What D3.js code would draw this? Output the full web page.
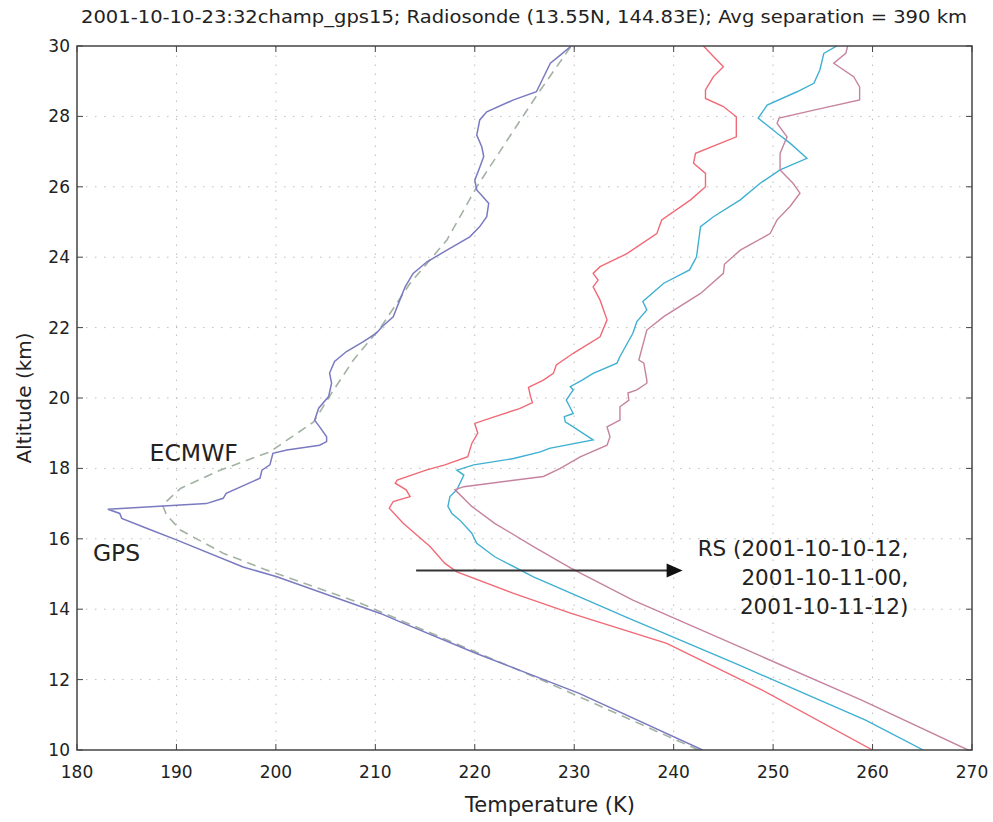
<!DOCTYPE html>
<html><head><meta charset="utf-8">
<script src="https://cdn.jsdelivr.net/npm/d3@7"></script>
<style>body{margin:0;background:#fff;} svg{display:block;} text{font-family:"DejaVu Sans",Verdana,sans-serif;fill:#222;}</style>
</head><body>
<svg id="chart" width="993" height="822"></svg>
<script>
const titleText = "2001-10-10-23:32champ_gps15; Radiosonde (13.55N, 144.83E); Avg separation = 390 km";
const xLabel = "Temperature (K)";
const yLabel = "Altitude (km)";
const xTicks = [180,190,200,210,220,230,240,250,260,270];
const yTicks = [10,12,14,16,18,20,22,24,26,28,30];

// GPS profile: altitude (km) and temperature (K)
const gpsAlt  = [10.0,11.61,12.75,13.64,13.88,14.92,15.2,15.97,16.3,16.58,16.72,16.84,16.93,17.0,17.15,17.29,17.72,17.95,18.1,18.43,18.52,18.66,18.76,18.9,19.18,19.37,19.71,20.04,20.42,20.71,21.04,21.32,21.6,21.84,22.03,22.31,22.88,23.16,23.54,23.87,24.2,24.58,24.87,25.15,25.53,25.91,26.19,26.48,26.86,27.14,27.47,27.9,28.13,28.47,28.7,29.51,29.74,30.0];
const gpsTemp = [242.9,230.5,220.1,212.5,210.5,200.1,196.7,190.0,187.0,184.5,184.3,183.1,188.7,193.0,194.7,195.0,198.4,198.6,199.4,199.7,201.1,204.4,205.1,205.1,204.4,203.9,204.3,205.3,205.6,205.4,205.9,207.1,208.8,210.1,210.7,211.8,212.6,213.0,213.8,215.2,217.2,219.5,220.5,221.2,221.4,220.2,220.0,220.4,220.9,220.7,220.2,220.5,221.2,223.9,226.2,227.6,228.6,229.7];

// ECMWF profile
const ecmAlt  = [10.0,12.08,13.69,14.17,14.64,15.11,15.59,16.25,16.68,16.96,17.43,17.95,18.47,19.32,20.14,21.08,22.03,23.26,24.49,26.0,27.9,28.75,30.0];
const ecmTemp = [242.5,226.0,212.5,208.5,203.8,199.1,194.7,190.4,189.0,188.6,190.4,194.4,199.4,203.8,205.6,207.8,210.6,213.5,217.2,220.2,224.6,226.6,229.7];

// Radiosonde 2001-10-10-12 (red)
const rs1Alt  = [10.0,11.7,13.03,13.88,14.45,15.06,15.3,15.78,16.44,16.87,17.06,17.2,17.39,17.58,17.67,17.95,18.1,18.33,18.71,19.0,19.28,19.45,19.7,19.87,20.05,20.3,20.51,20.7,20.94,21.27,21.74,22.22,22.78,23.16,23.35,23.54,23.73,24.1,24.67,25.06,25.63,26.0,26.38,26.67,26.95,27.42,27.99,28.28,28.51,28.75,29.13,29.41,29.7,30.0];
const rs1Temp = [260.0,248.9,239.3,229.7,223.9,218.2,217.0,215.5,212.8,211.4,211.8,213.5,213.1,212.0,212.2,215.1,217.0,219.3,219.7,220.3,220.0,221.8,224.5,225.8,225.6,225.4,226.9,227.9,228.2,229.9,232.6,233.3,232.6,231.9,232.4,231.9,232.6,235.3,238.3,238.8,241.7,243.2,243.2,242.0,242.2,246.3,246.3,245.0,243.2,243.2,244.0,245.0,244.0,243.0];

// Radiosonde 2001-10-11-00 (cyan)
const rs2Alt  = [10.0,10.85,12.41,13.79,14.92,15.49,15.87,16.16,16.53,16.72,16.92,17.2,17.39,17.81,17.95,18.1,18.28,18.47,18.57,18.81,19.18,19.32,19.47,19.56,19.94,20.23,20.32,20.51,20.7,20.99,21.18,21.84,22.17,22.5,22.74,23.26,23.64,24.01,24.87,25.15,25.63,26.1,26.48,26.81,27.24,27.52,27.95,28.32,28.7,28.94,29.32,29.79,30.0];
const rs2Temp = [265.1,259.3,246.6,235.1,225.9,222.0,220.2,219.7,218.5,217.7,217.3,217.5,218.2,218.9,218.2,219.9,223.9,226.6,227.5,231.9,229.9,229.1,229.0,229.9,229.2,229.9,229.6,230.8,231.9,234.3,234.6,235.9,236.3,237.3,236.9,239.0,241.6,242.3,242.7,244.0,246.7,248.7,250.7,253.4,251.7,250.4,248.5,249.4,252.4,254.1,254.7,255.1,256.4];

// Radiosonde 2001-10-11-12 (mauve)
const rs3Alt  = [10.0,11.42,12.65,14.26,15.16,15.78,16.44,16.92,17.34,17.39,17.48,17.77,18.0,18.33,18.66,18.9,19.18,19.37,19.75,19.94,20.14,20.23,20.42,20.51,20.99,21.08,21.93,22.31,22.97,23.54,23.8,24.2,24.67,25.06,25.44,25.82,26.1,26.48,26.95,27.42,27.8,27.95,28.18,28.47,28.84,29.13,29.51,29.79,30.0];
const rs3Temp = [269.6,258.9,248.9,235.9,229.7,225.9,222.0,219.7,218.2,218.0,218.9,226.9,228.6,230.6,233.3,233.6,233.3,234.6,234.6,235.5,235.4,236.3,237.3,237.3,237.0,236.5,237.3,239.0,242.7,245.0,245.1,246.7,249.7,250.4,251.7,252.7,252.0,250.7,250.7,251.4,250.4,250.6,254.1,258.7,258.7,258.1,256.1,257.3,257.5];

// annotations (data coordinates)
const arrowTemp = [214.1, 240.9];
const arrowAlt = 15.1;
const labelEcmwf = {text:"ECMWF", t:187.3, z:18.2};
const labelGps = {text:"GPS", t:181.6, z:15.36};
const rsLines = ["RS (2001-10-10-12,", "2001-10-11-00,", "2001-10-11-12)"];
const rsLabelPos = {t:263.6, z:15.5};

const W = 993, H = 822;
const m = {l:77, t:46, r:21, b:72};
const svg = d3.select("#chart");
const x = d3.scaleLinear().domain([180,270]).range([m.l, W-m.r]);
const y = d3.scaleLinear().domain([10,30]).range([H-m.b, m.t]);

// grid
const grid = svg.append("g");
grid.selectAll("line.gx").data(xTicks.slice(1,-1)).join("line")
  .attr("x1",d=>x(d)).attr("x2",d=>x(d)).attr("y1",y(10)).attr("y2",y(30))
  .attr("stroke","#bdbdbd").attr("stroke-width",1).attr("stroke-dasharray","1.5,7.5");
grid.selectAll("line.gy").data(yTicks.slice(1,-1)).join("line")
  .attr("y1",d=>y(d)).attr("y2",d=>y(d)).attr("x1",x(180)).attr("x2",x(270))
  .attr("stroke","#bdbdbd").attr("stroke-width",1).attr("stroke-dasharray","1.5,7.5");

svg.append("defs").append("clipPath").attr("id","clip").append("rect")
  .attr("x",m.l).attr("y",m.t).attr("width",W-m.l-m.r).attr("height",H-m.t-m.b);

const line = d3.line().x(d=>x(d[1])).y(d=>y(d[0]));
const zip = (a,b)=>a.map((v,i)=>[v,b[i]]);
const plot = svg.append("g").attr("clip-path","url(#clip)");

plot.append("path").datum(zip(ecmAlt,ecmTemp)).attr("d",line)
  .attr("fill","none").attr("stroke","#a3b2a3").attr("stroke-width",1.6).attr("stroke-dasharray","9,6");
plot.append("path").datum(zip(rs1Alt,rs1Temp)).attr("d",line)
  .attr("fill","none").attr("stroke","#f06a76").attr("stroke-width",1.4);
plot.append("path").datum(zip(rs2Alt,rs2Temp)).attr("d",line)
  .attr("fill","none").attr("stroke","#3fb0d2").attr("stroke-width",1.4);
plot.append("path").datum(zip(rs3Alt,rs3Temp)).attr("d",line)
  .attr("fill","none").attr("stroke","#c6839f").attr("stroke-width",1.4);
plot.append("path").datum(zip(gpsAlt,gpsTemp)).attr("d",line)
  .attr("fill","none").attr("stroke","#7a7ac0").attr("stroke-width",1.5);

// arrow
const ay = y(arrowAlt);
const ax0 = x(arrowTemp[0]), ax1 = x(arrowTemp[1]);
svg.append("line").attr("x1",ax0).attr("x2",ax1-14).attr("y1",ay).attr("y2",ay)
  .attr("stroke","#333").attr("stroke-width",2.2);
svg.append("path").attr("d",`M${ax1},${ay} L${ax1-16},${ay-7} L${ax1-16},${ay+7} Z`).attr("fill","#111");

// frame and ticks
const frame = svg.append("g");
frame.append("rect").attr("x",m.l).attr("y",m.t).attr("width",W-m.l-m.r).attr("height",H-m.t-m.b)
  .attr("fill","none").attr("stroke","#444").attr("stroke-width",1.5);
const tl = 6;
xTicks.forEach(t=>{
  frame.append("line").attr("x1",x(t)).attr("x2",x(t)).attr("y1",y(10)).attr("y2",y(10)-tl).attr("stroke","#444");
  frame.append("line").attr("x1",x(t)).attr("x2",x(t)).attr("y1",y(30)).attr("y2",y(30)+tl).attr("stroke","#444");
});
yTicks.forEach(t=>{
  frame.append("line").attr("y1",y(t)).attr("y2",y(t)).attr("x1",x(180)).attr("x2",x(180)+tl).attr("stroke","#444");
  frame.append("line").attr("y1",y(t)).attr("y2",y(t)).attr("x1",x(270)).attr("x2",x(270)-tl).attr("stroke","#444");
});
svg.append("g").selectAll("text").data(xTicks).join("text")
  .attr("x",d=>x(d)).attr("y",y(10)+28).attr("text-anchor","middle").attr("font-size",17).text(d=>d);
svg.append("g").selectAll("text").data(yTicks).join("text")
  .attr("x",x(180)-7).attr("y",d=>y(d)+6).attr("text-anchor","end").attr("font-size",17).text(d=>d);

// labels
svg.append("text").attr("x",524).attr("y",23).attr("text-anchor","middle").attr("font-size",17)
  .attr("textLength",886).attr("lengthAdjust","spacingAndGlyphs").text(titleText);
svg.append("text").attr("x",550).attr("y",812).attr("text-anchor","middle").attr("font-size",21).text(xLabel);
svg.append("text").attr("transform",`translate(31,${(m.t+H-m.b)/2}) rotate(-90)`).attr("text-anchor","middle").attr("font-size",20).text(yLabel);

svg.append("text").attr("x",x(labelEcmwf.t)).attr("y",y(labelEcmwf.z)).attr("font-size",23.5).text(labelEcmwf.text);
svg.append("text").attr("x",x(labelGps.t)).attr("y",y(labelGps.z)).attr("font-size",23.5).text(labelGps.text);
svg.append("g").selectAll("text").data(rsLines).join("text")
  .attr("x",x(rsLabelPos.t)).attr("y",(d,i)=>y(rsLabelPos.z)+i*29).attr("text-anchor","end").attr("font-size",21.5).text(d=>d);
</script>
</body></html>
